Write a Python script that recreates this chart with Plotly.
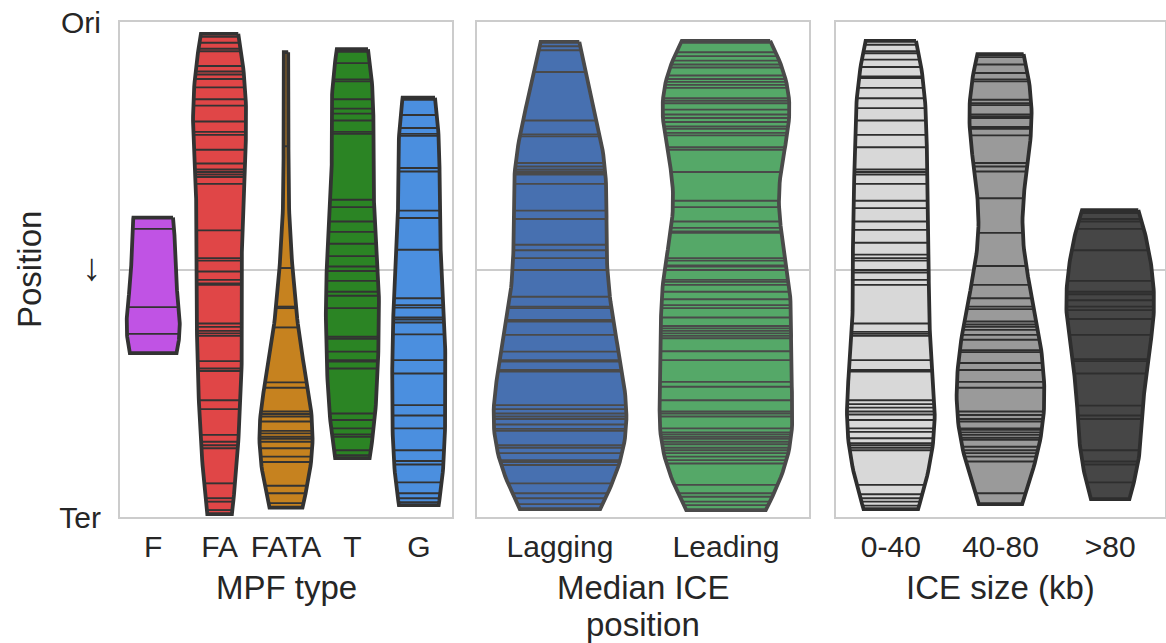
import numpy as np
import plotly.graph_objects as go

# Relative chromosome position of each element: 0 = origin (Ori), 1 = terminus (Ter)

# Panel 1: MPF type
mpf_types = ["F", "FA", "FATA", "T", "G"]
pos_F = [0.395, 0.418, 0.576, 0.630, 0.669]
pos_FA = [0.024, 0.030, 0.042, 0.054, 0.059, 0.089, 0.100, 0.106, 0.115, 0.132,
          0.156, 0.169, 0.201, 0.222, 0.228, 0.258, 0.286, 0.298, 0.303, 0.308,
          0.313, 0.327, 0.421, 0.477, 0.482, 0.504, 0.521, 0.528, 0.531, 0.609,
          0.616, 0.624, 0.629, 0.634, 0.685, 0.700, 0.705, 0.764, 0.782, 0.834,
          0.848, 0.855, 0.861, 0.932, 0.962, 0.969, 0.986, 0.994]
pos_FATA = [0.061, 0.251, 0.497, 0.575, 0.578, 0.617, 0.728, 0.739, 0.787, 0.792,
            0.797, 0.807, 0.826, 0.831, 0.838, 0.842, 0.848, 0.861, 0.878, 0.889,
            0.937, 0.952, 0.972, 0.981]
pos_T = [0.055, 0.060, 0.083, 0.116, 0.120, 0.156, 0.175, 0.185, 0.199, 0.222,
         0.226, 0.359, 0.374, 0.403, 0.424, 0.448, 0.473, 0.494, 0.503, 0.523,
         0.545, 0.553, 0.578, 0.636, 0.640, 0.666, 0.683, 0.686, 0.700, 0.791,
         0.804, 0.821, 0.833, 0.838, 0.865, 0.875, 0.881]
pos_G = [0.153, 0.157, 0.188, 0.214, 0.226, 0.230, 0.295, 0.302, 0.381, 0.396,
         0.460, 0.558, 0.572, 0.577, 0.597, 0.601, 0.607, 0.631, 0.683, 0.710,
         0.774, 0.795, 0.821, 0.865, 0.887, 0.894, 0.930, 0.952, 0.962, 0.970,
         0.976]

# Panel 2: median ICE position relative to replication
strand_labels = ["Lagging", "Leading"]
pos_lagging = [0.040, 0.049, 0.057, 0.101, 0.199, 0.227, 0.231, 0.285, 0.292, 0.298,
               0.302, 0.305, 0.308, 0.327, 0.381, 0.398, 0.450, 0.461, 0.477, 0.501,
               0.555, 0.575, 0.578, 0.602, 0.605, 0.632, 0.666, 0.683, 0.686, 0.703,
               0.706, 0.774, 0.782, 0.791, 0.797, 0.802, 0.813, 0.822, 0.826, 0.855,
               0.860, 0.871, 0.885, 0.889, 0.895, 0.932, 0.952, 0.962, 0.974, 0.984]
pos_leading = [0.038, 0.042, 0.061, 0.069, 0.078, 0.086, 0.092, 0.108, 0.115, 0.121,
               0.127, 0.133, 0.154, 0.159, 0.164, 0.177, 0.187, 0.194, 0.202, 0.211,
               0.216, 0.224, 0.229, 0.253, 0.258, 0.303, 0.361, 0.374, 0.403, 0.416,
               0.423, 0.426, 0.477, 0.482, 0.492, 0.494, 0.501, 0.521, 0.525, 0.531,
               0.545, 0.560, 0.572, 0.578, 0.597, 0.614, 0.619, 0.624, 0.629, 0.634,
               0.639, 0.665, 0.683, 0.727, 0.737, 0.764, 0.787, 0.791, 0.797, 0.821,
               0.829, 0.833, 0.838, 0.842, 0.848, 0.853, 0.860, 0.865, 0.871, 0.878,
               0.885, 0.892, 0.935, 0.952, 0.959, 0.969, 0.976, 0.986]

# Panel 3: ICE size class
size_labels = ["0-40", "40-80", ">80"]
pos_0_40 = [0.038, 0.046, 0.059, 0.063, 0.076, 0.091, 0.110, 0.113, 0.133, 0.154,
            0.174, 0.199, 0.228, 0.253, 0.298, 0.303, 0.308, 0.327, 0.361, 0.376,
            0.403, 0.420, 0.446, 0.470, 0.477, 0.482, 0.501, 0.506, 0.521, 0.531,
            0.609, 0.626, 0.630, 0.634, 0.683, 0.703, 0.706, 0.764, 0.772, 0.779,
            0.787, 0.793, 0.804, 0.821, 0.828, 0.841, 0.851, 0.855, 0.860, 0.865,
            0.935, 0.954, 0.962, 0.969, 0.977, 0.984]
pos_40_80 = [0.065, 0.071, 0.086, 0.103, 0.116, 0.120, 0.157, 0.164, 0.168, 0.187,
             0.191, 0.194, 0.212, 0.216, 0.229, 0.285, 0.292, 0.302, 0.356, 0.426,
             0.493, 0.531, 0.558, 0.575, 0.580, 0.605, 0.611, 0.616, 0.622, 0.632,
             0.642, 0.663, 0.667, 0.689, 0.703, 0.727, 0.739, 0.787, 0.794, 0.802,
             0.807, 0.821, 0.824, 0.829, 0.834, 0.840, 0.844, 0.858, 0.865, 0.871,
             0.878, 0.888, 0.952, 0.974]
pos_80_plus = [0.380, 0.386, 0.398, 0.403, 0.418, 0.461, 0.523, 0.545, 0.550, 0.562,
               0.575, 0.582, 0.600, 0.632, 0.681, 0.685, 0.710, 0.775, 0.795, 0.802,
               0.865, 0.888, 0.894, 0.930, 0.964]

y_tick_vals = [0, 0.5, 1]
y_tick_text = ["Ori", "<span style='font-size:38px'>\u2193</span>", "Ter"]

FONT = "Liberation Sans, Arial, sans-serif"
TEXT = "#262626"
GRID = "#cccccc"
W, H = 1166, 643

panels = [
    dict(cats=mpf_types, data=[pos_F, pos_FA, pos_FATA, pos_T, pos_G],
         colors=["#c053e4", "#e04647", "#c6821f", "#2b8424", "#4b8fdf"],
         edge="#333333", x=(120, 452), title=["MPF type"]),
    dict(cats=strand_labels, data=[pos_lagging, pos_leading],
         colors=["#4770b0", "#55a868"],
         edge="#4a4a4a", x=(477, 809), title=["Median ICE", "position"]),
    dict(cats=size_labels, data=[pos_0_40, pos_40_80, pos_80_plus],
         colors=["#d8d8d8", "#9a9a9a", "#464646"],
         edge="#2e2e2e", x=(836, 1165), title=["ICE size (kb)"]),
]

HALF_WIDTH = 0.4   # violin half-width in category units (total width 0.8)
EDGE_W = 3.8
STICK_W = 1.9
TITLE_Y0 = 587     # first line of an x-axis title, pixels from top
TITLE_DY = 37      # line spacing for two-line titles


def kde_profile(values, gridsize=100):
    """Gaussian KDE (Scott bandwidth) on the data range, scaled to max 1."""
    v = np.asarray(values, dtype=float)
    bw = v.std(ddof=1) * len(v) ** (-1 / 5)
    support = np.linspace(v.min(), v.max(), gridsize)
    dens = np.exp(-0.5 * ((support[:, None] - v[None, :]) / bw) ** 2).sum(axis=1)
    return support, dens / dens.max()


fig = go.Figure()
y_top, y_bot = 22, 517
y_domain = [1 - y_bot / H, 1 - y_top / H]

for k, p in enumerate(panels):
    sfx = "" if k == 0 else str(k + 1)
    xref, yref = "x" + sfx, "y" + sfx
    for i, (vals, col) in enumerate(zip(p["data"], p["colors"])):
        support, dens = kde_profile(vals)
        hw = HALF_WIDTH * dens
        xs = np.concatenate([i + hw, (i - hw)[::-1], [i + hw[0]]])
        ys = np.concatenate([support, support[::-1], [support[0]]])
        fig.add_trace(go.Scatter(
            x=xs, y=ys, mode="lines", fill="toself", fillcolor=col,
            line=dict(color=p["edge"], width=EDGE_W), xaxis=xref, yaxis=yref,
            hoverinfo="skip", showlegend=False))
        sx, sy = [], []
        for val in vals:
            idx = int(np.argmin(np.abs(support - val)))
            w = HALF_WIDTH * dens[idx] * 0.99
            sx += [i - w, i + w, None]
            sy += [val, val, None]
        fig.add_trace(go.Scatter(
            x=sx, y=sy, mode="lines", line=dict(color=p["edge"], width=STICK_W),
            xaxis=xref, yaxis=yref, hoverinfo="skip", showlegend=False))

    n = len(p["cats"])
    x0, x1 = p["x"]
    fig.layout["xaxis" + sfx] = dict(
        domain=[x0 / W, x1 / W], anchor=yref, range=[-0.5, n - 0.5],
        tickvals=list(range(n)), ticktext=p["cats"], showgrid=False,
        zeroline=False, showline=True, mirror=True, linecolor=GRID, linewidth=2,
        ticks="", ticklabelstandoff=2, automargin=False,
        tickfont=dict(family=FONT, size=30, color=TEXT), fixedrange=True)
    fig.layout["yaxis" + sfx] = dict(
        domain=y_domain, anchor=xref, range=[1, 0],
        tickvals=y_tick_vals, ticktext=y_tick_text, showticklabels=(k == 0),
        showgrid=True, gridcolor=GRID, gridwidth=1.5, zeroline=False,
        showline=True, mirror=True, linecolor=GRID, linewidth=2, ticks="",
        ticklabelstandoff=11, automargin=False,
        tickfont=dict(family=FONT, size=30, color=TEXT), fixedrange=True)
    for j, line in enumerate(p["title"]):
        fig.add_annotation(
            text=line, xref="paper", yref="paper",
            x=(x0 + x1) / 2 / W, y=1 - (TITLE_Y0 + j * TITLE_DY) / H,
            xanchor="center", yanchor="middle", showarrow=False,
            font=dict(family=FONT, size=33, color=TEXT))

fig.add_annotation(
    text="Position", xref="paper", yref="paper", x=29 / W, y=1 - 270 / H,
    textangle=-90, xanchor="center", yanchor="middle", showarrow=False,
    font=dict(family=FONT, size=33, color=TEXT))

fig.update_layout(
    width=W, height=H, margin=dict(l=0, r=0, t=0, b=0, autoexpand=False),
    paper_bgcolor="white", plot_bgcolor="white", showlegend=False,
    font=dict(family=FONT, color=TEXT))

fig.write_html("out.html")
